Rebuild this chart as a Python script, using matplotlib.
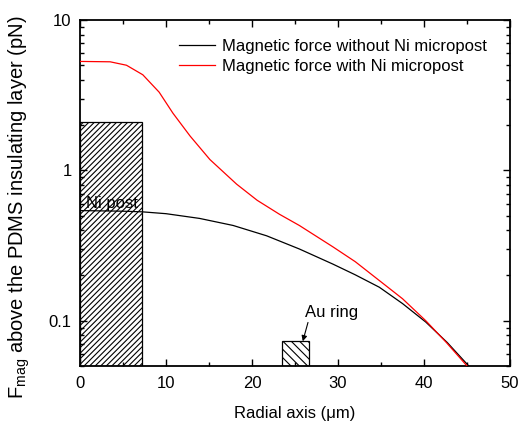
import matplotlib
matplotlib.use("Agg")
import matplotlib.pyplot as plt
from matplotlib.patches import Rectangle
from matplotlib.ticker import LogLocator, FixedLocator, NullFormatter

plt.rcParams['font.family'] = ['Liberation Sans', 'DejaVu Sans']
plt.rcParams['mathtext.fontset'] = 'custom'
plt.rcParams['mathtext.rm'] = 'Liberation Sans'
plt.rcParams['hatch.linewidth'] = 0.8

# magnetic force without Ni micropost (black)
r_plain = [0, 5, 7.2, 10, 13.9, 17.8, 21.7, 25.5, 29.4, 32, 34.8, 37.5, 40.2, 42.7, 45.2]
f_plain = [0.54, 0.535, 0.53, 0.515, 0.479, 0.43, 0.367, 0.30, 0.238, 0.202, 0.167, 0.13, 0.098, 0.0716, 0.05]

# magnetic force with Ni micropost (red)
r_ni = [0, 3.5, 5.4, 7.3, 9.2, 10.8, 12.8, 15.1, 18.2, 20.6, 23.2, 25.5, 29.4, 32, 34.8, 37.5, 40.2, 42.6, 45.0]
f_ni = [5.3, 5.27, 5.0, 4.32, 3.31, 2.4, 1.69, 1.18, 0.81, 0.632, 0.51, 0.43, 0.31, 0.247, 0.185, 0.14, 0.10, 0.0716, 0.05]

# structures drawn as hatched boxes: (x start, x end, top)
ni_post = (0, 7.2, 2.1)
au_ring = (23.5, 26.6, 0.073)

fig = plt.figure(figsize=(5.21, 4.22), dpi=100)
ax = fig.add_axes([0.1536, 0.1327, 0.8254, 0.82])

ymin, ymax = 0.05, 10

ax.add_patch(Rectangle((ni_post[0], ymin), ni_post[1] - ni_post[0], ni_post[2] - ymin,
                       facecolor='white', edgecolor='black', hatch='//////', lw=0.9, zorder=1))
ax.add_patch(Rectangle((au_ring[0], ymin), au_ring[1] - au_ring[0], au_ring[2] - ymin,
                       facecolor='white', edgecolor='black', hatch='\\\\\\\\', lw=0.9, zorder=1))

ax.plot(r_plain, f_plain, color='black', lw=0.9, label='Magnetic force without Ni micropost', zorder=3)
ax.plot(r_ni, f_ni, color='red', lw=0.9, label='Magnetic force with Ni micropost', zorder=3)

ax.text(0.75, 0.6, 'Ni post', fontsize=12, va='center', ha='left', zorder=4)
ax.annotate('Au ring', xy=(25.9, 0.073), xytext=(26.1, 0.114), fontsize=12,
            va='center', ha='left',
            arrowprops=dict(arrowstyle='-|>', color='black', lw=0.8,
                            mutation_scale=8, shrinkA=0, shrinkB=0,
                            relpos=(0.08, 0.0)))

ax.set_yscale('log')
ax.set_xlim(0, 50)
ax.set_ylim(ymin, ymax)

ax.xaxis.set_major_locator(FixedLocator([0, 10, 20, 30, 40, 50]))
ax.xaxis.set_minor_locator(FixedLocator([5, 15, 25, 35, 45]))
ax.yaxis.set_major_locator(FixedLocator([0.1, 1, 10]))
ax.yaxis.set_minor_locator(LogLocator(base=10, subs=range(2, 10)))
ax.yaxis.set_minor_formatter(NullFormatter())
ax.set_yticklabels(['0.1', '1', '10'])

ax.tick_params(which='both', direction='in', top=True, right=True, labelsize=12, width=1.0)
ax.tick_params(which='major', length=5)
ax.tick_params(which='minor', length=3)
ax.tick_params(axis='x', pad=7)
ax.tick_params(axis='y', pad=6)
for s in ax.spines.values():
    s.set_linewidth(1.3)

ax.set_xlabel('Radial axis (μm)', fontsize=12, labelpad=11)
ax.set_ylabel(r'F$_{\mathrm{mag}}$ above the PDMS insulating layer (pN)', fontsize=14.5)
ax.yaxis.set_label_coords(-0.112, 0.46)

ax.legend(loc='upper right', bbox_to_anchor=(487 / 521, 1 - 39 / 422), bbox_transform=fig.transFigure,
          frameon=False, fontsize=12, borderpad=0, borderaxespad=0,
          handlelength=2.2, handletextpad=0.4, labelspacing=0.3)

fig.savefig('out.png', dpi=100)
